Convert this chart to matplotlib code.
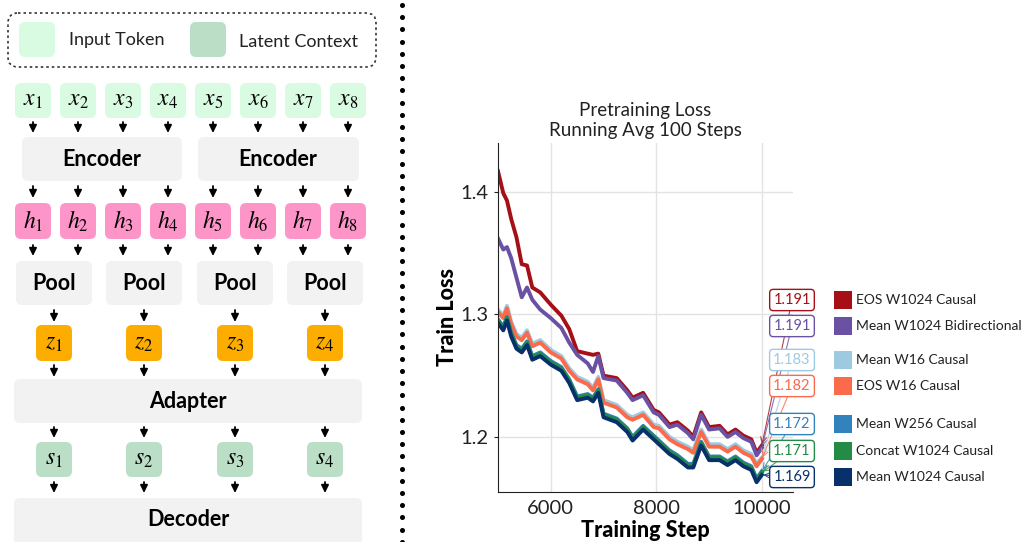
import numpy as np
import matplotlib
matplotlib.use("Agg")
import matplotlib.pyplot as plt
from matplotlib.patches import FancyBboxPatch, Rectangle

plt.rcParams['font.family'] = ['Lato', 'DejaVu Sans']
plt.rcParams['mathtext.fontset'] = 'stix'

# ---- data (running avg of train loss) ----
steps = [5000, 5100, 5170, 5250, 5350, 5450, 5550, 5650, 5800, 6000, 6200, 6350,
         6500, 6700, 6800, 6900, 7000, 7250, 7450, 7550, 7750, 7950, 8050, 8250,
         8400, 8600, 8700, 8850, 9000, 9200, 9350, 9500, 9650, 9800, 9900, 10000]

eos_w1024_causal = [1.417, 1.399, 1.393, 1.378, 1.363, 1.341, 1.340, 1.322, 1.318, 1.308, 1.299, 1.288,
                    1.270, 1.268, 1.267, 1.268, 1.250, 1.248, 1.238, 1.232, 1.236, 1.222, 1.220, 1.210,
                    1.212, 1.205, 1.200, 1.220, 1.208, 1.209, 1.202, 1.206, 1.201, 1.198, 1.187, 1.193]
mean_w1024_bidir = [1.362, 1.353, 1.355, 1.346, 1.330, 1.314, 1.322, 1.312, 1.304, 1.297, 1.289, 1.277,
                    1.267, 1.260, 1.253, 1.266, 1.248, 1.246, 1.236, 1.230, 1.234, 1.220, 1.218, 1.208,
                    1.210, 1.203, 1.198, 1.218, 1.206, 1.207, 1.200, 1.204, 1.199, 1.196, 1.185, 1.191]
mean_w16_causal = [1.304, 1.299, 1.307, 1.294, 1.284, 1.281, 1.287, 1.276, 1.279, 1.271, 1.266, 1.256,
                   1.249, 1.245, 1.240, 1.249, 1.230, 1.226, 1.218, 1.216, 1.220, 1.210, 1.209, 1.200,
                   1.196, 1.192, 1.189, 1.206, 1.194, 1.194, 1.190, 1.194, 1.189, 1.186, 1.178, 1.183]
eos_w16_causal = [1.302, 1.297, 1.305, 1.292, 1.282, 1.279, 1.285, 1.274, 1.277, 1.269, 1.264, 1.254,
                  1.247, 1.243, 1.238, 1.247, 1.228, 1.224, 1.216, 1.214, 1.218, 1.208, 1.207, 1.198,
                  1.194, 1.190, 1.187, 1.204, 1.192, 1.192, 1.188, 1.192, 1.187, 1.184, 1.176, 1.182]
mean_w256_causal = [1.296, 1.290, 1.298, 1.285, 1.275, 1.272, 1.278, 1.266, 1.269, 1.262, 1.257, 1.247,
                    1.233, 1.235, 1.232, 1.239, 1.219, 1.215, 1.207, 1.200, 1.209, 1.201, 1.197, 1.189,
                    1.185, 1.178, 1.178, 1.196, 1.184, 1.184, 1.180, 1.184, 1.179, 1.176, 1.166, 1.172]
concat_w1024_causal = [1.295, 1.289, 1.297, 1.284, 1.274, 1.271, 1.277, 1.265, 1.268, 1.261, 1.256, 1.246,
                       1.232, 1.234, 1.231, 1.238, 1.218, 1.214, 1.206, 1.199, 1.208, 1.200, 1.196, 1.188,
                       1.184, 1.177, 1.177, 1.195, 1.183, 1.183, 1.179, 1.183, 1.178, 1.175, 1.165, 1.171]
mean_w1024_causal = [1.293, 1.287, 1.295, 1.282, 1.272, 1.269, 1.275, 1.263, 1.266, 1.259, 1.254, 1.244,
                     1.230, 1.232, 1.229, 1.236, 1.216, 1.212, 1.204, 1.197, 1.206, 1.198, 1.194, 1.186,
                     1.182, 1.175, 1.175, 1.193, 1.181, 1.181, 1.177, 1.181, 1.176, 1.173, 1.163, 1.169]

series_names = ["EOS W1024 Causal", "Mean W1024 Bidirectional", "Mean W16 Causal", "EOS W16 Causal",
                "Mean W256 Causal", "Concat W1024 Causal", "Mean W1024 Causal"]
series_vals = [eos_w1024_causal, mean_w1024_bidir, mean_w16_causal, eos_w16_causal,
               mean_w256_causal, concat_w1024_causal, mean_w1024_causal]
series_colors = ["#a50f15", "#6a51a3", "#9ecae1", "#fb6a4a", "#3182bd", "#238b45", "#08306b"]
final_labels = ["1.191", "1.191", "1.183", "1.182", "1.172", "1.171", "1.169"]

W, H = 1028, 542
fig = plt.figure(figsize=(W / 100, H / 100), dpi=100)

# ---- left: architecture diagram, drawn in pixel coords ----
cv = fig.add_axes([0, 0, 1, 1])
cv.set_xlim(0, W); cv.set_ylim(H, 0); cv.axis("off")


def rbox(x0, y0, x1, y1, fc, r=6, **kw):
    cv.add_patch(FancyBboxPatch((x0, y0), x1 - x0, y1 - y0,
                                boxstyle=f"round,pad=0,rounding_size={r}", fc=fc,
                                ec=kw.pop("ec", "none"), **kw))


def arrow(x, y0, y1):
    cv.annotate("", xy=(x, y1), xytext=(x, y0),
                arrowprops=dict(arrowstyle="-|>,head_length=0.45,head_width=0.22", color="black",
                                lw=1.3, shrinkA=0, shrinkB=0, mutation_scale=10))


MINT, LATENT, PINK, ORANGE, GREY = "#d8fbe2", "#bbdec6", "#fd95c9", "#fdad00", "#f2f2f2"

# legend box
rbox(8, 13, 376, 67, "white", r=10, ec="#333333", lw=1.2, ls=(0, (1.5, 1.8)))
rbox(19, 22, 55, 57, MINT, r=6)
cv.text(69, 40, "Input Token", fontsize=13, va="center", color="#222222")
rbox(190, 22, 226, 57, LATENT, r=6)
cv.text(239, 42, "Latent Context", fontsize=13, va="center", color="#222222")

tok_x = [33 + 45 * i for i in range(8)]
pool_x = [54, 144, 235, 325]

for i, cx in enumerate(tok_x):
    rbox(cx - 18, 83, cx + 18, 118, MINT)
    cv.text(cx, 101, rf"$x_{{{i + 1}}}$", fontsize=17, ha="center", va="center")
    arrow(cx, 122, 133)
    arrow(cx, 186, 198)
    rbox(cx - 18, 203, cx + 18, 239, PINK)
    cv.text(cx, 221, rf"$h_{{{i + 1}}}$", fontsize=17, ha="center", va="center")
    arrow(cx, 245, 256)

rbox(22, 137, 182, 181, GREY)
rbox(198, 137, 359, 181, GREY)
cv.text(102, 159, "Encoder", fontsize=15.5, fontweight="bold", ha="center", va="center")
cv.text(278, 159, "Encoder", fontsize=15.5, fontweight="bold", ha="center", va="center")

for j, cx in enumerate(pool_x):
    rbox(cx - 38, 261, cx + 38, 305, GREY)
    cv.text(cx, 283, "Pool", fontsize=15.5, fontweight="bold", ha="center", va="center")
    arrow(cx, 310, 322)
    rbox(cx - 18, 325, cx + 18, 361, ORANGE)
    cv.text(cx, 343, rf"$z_{{{j + 1}}}$", fontsize=17, ha="center", va="center")
    arrow(cx, 365, 377)
    arrow(cx, 427, 438)
    rbox(cx - 18, 442, cx + 18, 477, LATENT)
    cv.text(cx, 459, rf"$s_{{{j + 1}}}$", fontsize=17, ha="center", va="center")
    arrow(cx, 482, 493)

rbox(14, 379, 362, 423, GREY)
cv.text(188, 401, "Adapter", fontsize=15.5, fontweight="bold", ha="center", va="center")
rbox(14, 498, 362, 545, GREY)
cv.text(188, 520, "Decoder", fontsize=15.5, fontweight="bold", ha="center", va="center")

# dotted separator
dots_y = np.arange(5, H, 12.2)
cv.plot(np.full(len(dots_y), 402), dots_y, "o", ms=2.6, color="black")

# ---- right: loss curves ----
ax = fig.add_axes([498 / W, 50 / H, 295 / W, 349 / H])
for vals, col in zip(series_vals, series_colors):
    ax.plot(steps, vals, color=col, lw=2.8, solid_joinstyle="round")

ax.set_xlim(5000, 10590)
ax.set_ylim(1.155, 1.440)
ax.set_xticks([6000, 8000, 10000])
ax.set_yticks([1.2, 1.3, 1.4])
ax.set_yticklabels(["1.2", "1.3", "1.4"])
ax.grid(True, color="#e3e3e3", lw=1)
ax.set_axisbelow(True)
for s in ["top", "right"]:
    ax.spines[s].set_visible(False)
for s in ["left", "bottom"]:
    ax.spines[s].set_color("#222222")
ax.tick_params(axis="y", length=3, labelsize=14.5, colors="#222222")
ax.tick_params(axis="x", length=0, labelsize=14.5, pad=6, colors="#222222")
ax.set_xlabel("Training Step", fontsize=15.5, fontweight="black", labelpad=2)
ax.set_ylabel("Train Loss", fontsize=15.5, fontweight="black", labelpad=2)
ax.set_title("Pretraining Loss\nRunning Avg 100 Steps", fontsize=13.5, pad=5, color="#222222")

row_y = [300, 326, 360, 386, 424, 451, 477]
for vals, col, lab, ly, name in zip(series_vals, series_colors, final_labels, row_y, series_names):
    ax.annotate(lab, xy=(steps[-1], vals[-1]), xytext=(792, H - ly), textcoords="figure pixels",
                ha="center", va="center", color=col, fontsize=10.5,
                bbox=dict(boxstyle="round,pad=0.25", fc="white", ec=col, lw=1),
                arrowprops=dict(arrowstyle="->", color=col, lw=0.8, alpha=0.8,
                                shrinkA=0, shrinkB=1),
                annotation_clip=False)
    cv.add_patch(Rectangle((834, ly - 9), 18, 18, fc=col, ec="none"))
    cv.text(856, ly, name, fontsize=10, va="center", color="#222222")

fig.savefig("out.png", dpi=100)
